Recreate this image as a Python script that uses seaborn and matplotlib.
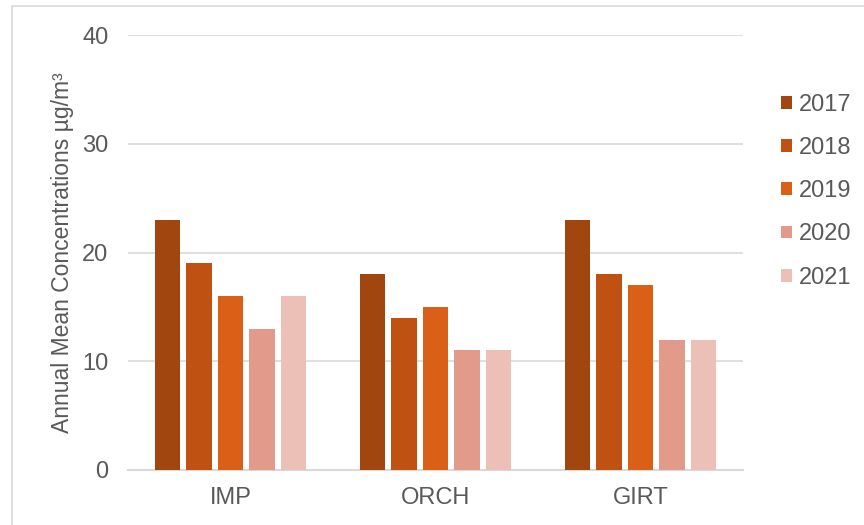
import matplotlib
matplotlib.use("Agg")
import matplotlib.pyplot as plt
from matplotlib.patches import Rectangle
import pandas as pd
import seaborn as sns

# === data ===
SITES = ["IMP", "ORCH", "GIRT"]
YEARS = ["2017", "2018", "2019", "2020", "2021"]
VALUES = {
    "2017": [23, 18, 23],
    "2018": [19, 14, 18],
    "2019": [16, 15, 17],
    "2020": [13, 11, 12],
    "2021": [16, 11, 12],
}
COLORS = ["#A0460E", "#BF5213", "#DA5F17", "#E29A8A", "#ECC0B6"]
Y_LABEL = "Annual Mean Concentrations \u00b5g/m\u00b3"
TEXT_COLOR = "#595959"
GRID_COLOR = "#D9D9D9"

rows = []
for year in YEARS:
    for site, v in zip(SITES, VALUES[year]):
        rows.append({"site": site, "year": year, "value": v})
df = pd.DataFrame(rows)

sns.set_theme(style="white")
plt.rcParams["font.family"] = ["Liberation Sans", "DejaVu Sans"]

fig = plt.figure(figsize=(8.64, 5.25), dpi=100)
ax = fig.add_axes([128 / 864, 1 - 470 / 525, (743 - 128) / 864, (470 - 35) / 525])

sns.barplot(data=df, x="site", y="value", hue="year", order=SITES, hue_order=YEARS,
            palette=COLORS, width=0.77, gap=0.2, edgecolor="none", saturation=1,
            ax=ax, zorder=3)

ax.set_xlim(-0.5, 2.5)
ax.set_ylim(0, 40)
ax.set_yticks([0, 10, 20, 30, 40])
ax.yaxis.grid(True, color=GRID_COLOR, linewidth=1.2, zorder=0)
ax.set_axisbelow(True)
for side in ["top", "right", "left"]:
    ax.spines[side].set_visible(False)
ax.spines["bottom"].set_color(GRID_COLOR)
ax.spines["bottom"].set_linewidth(1.5)
ax.tick_params(axis="both", length=0, labelsize=17, labelcolor=TEXT_COLOR)
ax.tick_params(axis="y", pad=14)
ax.tick_params(axis="x", pad=12)
ax.set_xlabel("")
ax.set_ylabel(Y_LABEL, fontsize=16.5, color=TEXT_COLOR, labelpad=6)

ax.legend(loc="upper left", bbox_to_anchor=(1.047, 0.887), frameon=False,
          fontsize=17, labelcolor=TEXT_COLOR, handlelength=0.45, handleheight=0.45,
          handletextpad=0.3, labelspacing=0.9, borderaxespad=0)

# light frame around the chart area
fig.patches.append(Rectangle((12 / 864, -0.1), 1.2, 1 - 6 / 525 + 0.1, transform=fig.transFigure,
                             fill=False, edgecolor=GRID_COLOR, linewidth=1.2))

fig.savefig("out.png", dpi=100, facecolor="white")
